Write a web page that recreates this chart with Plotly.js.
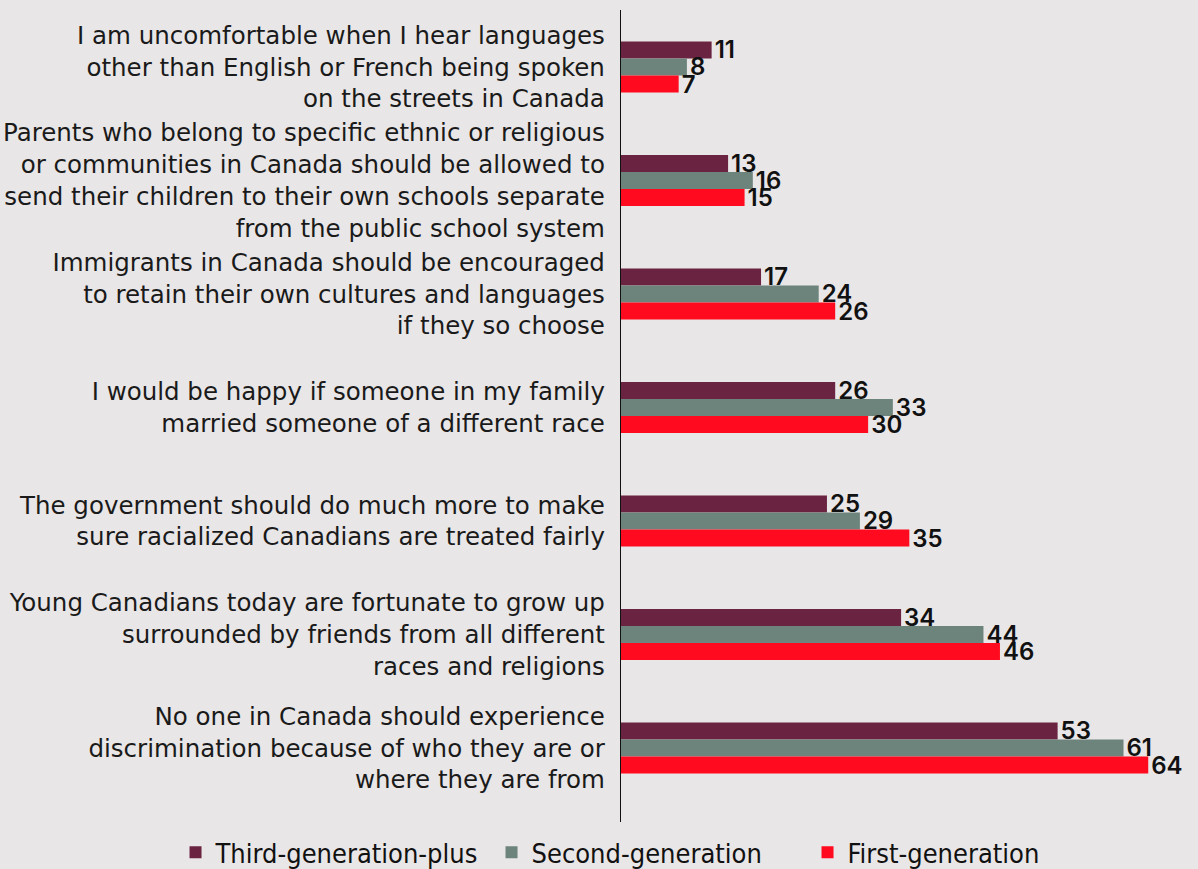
<!DOCTYPE html>
<html><head><meta charset="utf-8">
<script src="https://cdn.plot.ly/plotly-3.0.1.min.js"></script>
<style>html,body{margin:0;padding:0;background:#e9e6e7;}#chart{width:1198px;height:869px;}</style>
</head><body><div id="chart"></div>
<script>
const categories = [
  "I am uncomfortable when I hear languages<br>other than English or French being spoken<br>on the streets in Canada",
  "Parents who belong to specific ethnic or religious<br>or communities in Canada should be allowed to<br>send their children to their own schools separate<br>from the public school system",
  "Immigrants in Canada should be encouraged<br>to retain their own cultures and languages<br>if they so choose",
  "I would be happy if someone in my family<br>married someone of a different race",
  "The government should do much more to make<br>sure racialized Canadians are treated fairly",
  "Young Canadians today are fortunate to grow up<br>surrounded by friends from all different<br>races and religions",
  "No one in Canada should experience<br>discrimination because of who they are or<br>where they are from"
];
const seriesNames = ["Third-generation-plus", "Second-generation", "First-generation"];
const thirdGen = [11, 13, 17, 26, 25, 34, 53];
const secondGen = [8, 16, 24, 33, 29, 44, 61];
const firstGen = [7, 15, 26, 30, 35, 46, 64];
const colors = ["#6a2341", "#6d847d", "#ff0a1e"];

const values = [thirdGen, secondGen, firstGen];
const traces = values.map((v, i) => ({
  type: "bar",
  orientation: "h",
  name: seriesNames[i],
  y: categories,
  x: v,
  text: v.map(String),
  textposition: "outside",
  constraintext: "none",
  cliponaxis: false,
  textfont: {family: "Inter, 'Noto Sans', sans-serif", size: 24, color: "#111", weight: 600},
  marker: {color: colors[i]},
  hoverinfo: "x+name"
}));

const layout = {
  width: 1198, height: 869,
  paper_bgcolor: "#e9e6e7", plot_bgcolor: "#e9e6e7",
  margin: {l: 621, r: 30, t: 10, b: 47, autoexpand: false},
  barmode: "group", bargap: 0.55, bargroupgap: 0,
  showlegend: true,
  legend: {orientation: "h", x: -0.8144, xanchor: "left", y: -0.0075, yanchor: "top",
    font: {family: "'Liberation Sans Narrow', 'DejaVu Sans Condensed', sans-serif", size: 27, color: "#111"},
    itemwidth: 30, entrywidth: 271, entrywidthmode: "pixels", traceorder: "normal", bgcolor: "rgba(0,0,0,0)"},
  xaxis: {range: [0, 66.4], showgrid: false, zeroline: false, showticklabels: false, ticks: "", showline: false, fixedrange: true},
  yaxis: {type: "category", range: [6.652, -0.502], showgrid: false, zeroline: false,
    showline: true, linecolor: "#111", linewidth: 1.2,
    ticks: "outside", ticklen: 10, tickcolor: "rgba(0,0,0,0)",
    tickfont: {family: "'DejaVu Sans', sans-serif", size: 24.5, color: "#1a1a1a"}, fixedrange: true}
};
Plotly.newPlot("chart", traces, layout, {displayModeBar: false, staticPlot: true});
</script></body></html>
